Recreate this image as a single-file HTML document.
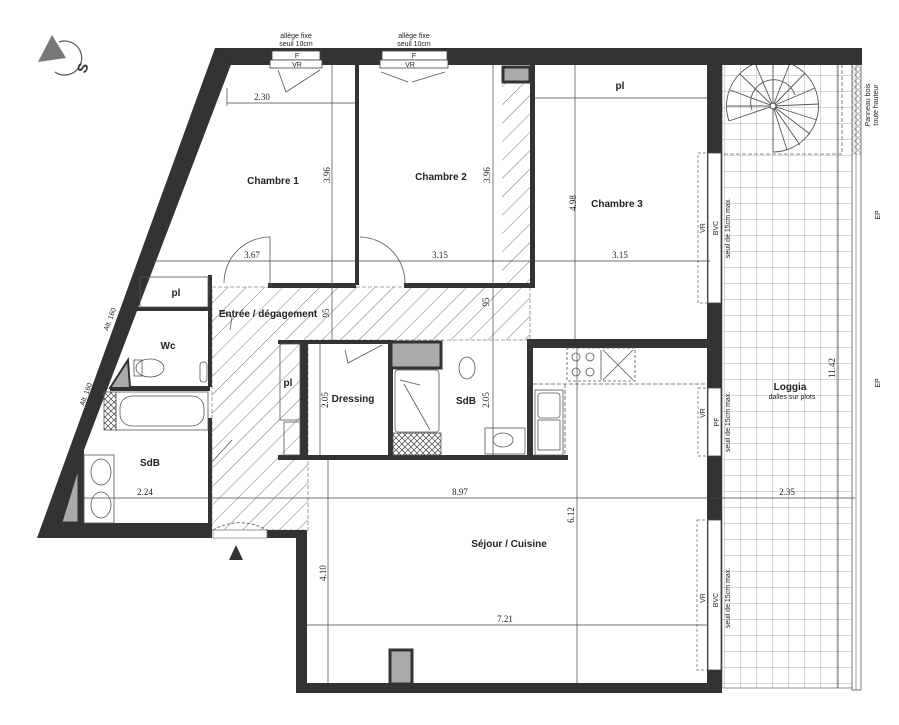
<!DOCTYPE html>
<html><head><meta charset="utf-8">
<style>
html,body{margin:0;padding:0;background:#fff;}
svg{display:block;}
text{font-family:"Liberation Sans",sans-serif;fill:#222;}
.b{font-weight:bold;font-size:10px;}
.d{font-family:"Liberation Serif",serif;font-size:9px;}
.s{font-size:7px;}
</style></head><body>
<svg width="899" height="725" viewBox="0 0 899 725" xmlns="http://www.w3.org/2000/svg">
<defs>
<pattern id="h" width="13" height="13" patternUnits="userSpaceOnUse" patternTransform="rotate(45)">
<line x1="0" y1="0" x2="0" y2="13" stroke="#555" stroke-width="0.8"/>
</pattern>
<pattern id="g" x="725" y="60" width="16" height="16" patternUnits="userSpaceOnUse">
<path d="M16 0V16M0 16H16" stroke="#999" stroke-width="0.8" fill="none"/>
</pattern>
<pattern id="x" width="6" height="6" patternUnits="userSpaceOnUse">
<path d="M0 0L6 6M6 0L0 6" stroke="#444" stroke-width="0.7"/>
</pattern>
</defs>

<!-- compass -->
<polygon points="52,35 66,58 38,62" fill="#777"/>
<path d="M59,42 A17,17 0 1 1 55,72" fill="none" stroke="#555" stroke-width="1.2"/>
<text x="80" y="78" font-size="14" font-weight="bold" transform="rotate(-70 80 72)" style="fill:#333">S</text>

<!-- hatched circulation -->
<polygon points="212,287 530,287 530,340 308,340 308,530 212,530" fill="url(#h)"/>
<rect x="502" y="82" width="28" height="203" fill="url(#h)"/>
<polygon points="212,287 530,287 530,340 308,340 308,530 212,530" fill="none" stroke="#888" stroke-width="0.8" stroke-dasharray="4 2"/>

<!-- loggia grid -->
<rect x="722" y="58" width="133" height="630" fill="url(#g)"/>
<rect x="722" y="58" width="133" height="630" fill="none" stroke="#777" stroke-width="0.8"/>
<line x1="838" y1="60" x2="838" y2="688" stroke="#444" stroke-width="0.8"/>
<rect x="852" y="60" width="9" height="630" fill="#fff" stroke="#555" stroke-width="0.8"/>
<line x1="856" y1="60" x2="856" y2="690" stroke="#555" stroke-width="0.6"/>
<rect x="852" y="60" width="9" height="95" fill="url(#x)" opacity="0.5"/>
<!-- stair -->
<rect x="722" y="58" width="120" height="96" fill="none" stroke="#666" stroke-dasharray="4 2" stroke-width="0.8"/>
<g stroke="#555" stroke-width="0.9" fill="none">
<path d="M729,121 A46,46 0 1 1 773,152"/>
<path d="M752,110 A22,22 0 0 1 795,95"/>
<line x1="773" y1="106" x2="729" y2="121"/><line x1="773" y1="106" x2="727" y2="106"/>
<line x1="773" y1="106" x2="730" y2="90"/><line x1="773" y1="106" x2="740" y2="74"/>
<line x1="773" y1="106" x2="755" y2="63"/><line x1="773" y1="106" x2="773" y2="60"/>
<line x1="773" y1="106" x2="790" y2="63"/><line x1="773" y1="106" x2="805" y2="73"/>
<line x1="773" y1="106" x2="815" y2="88"/><line x1="773" y1="106" x2="819" y2="104"/>
<line x1="773" y1="106" x2="817" y2="120"/><line x1="773" y1="106" x2="810" y2="134"/>
<line x1="773" y1="106" x2="800" y2="145"/><line x1="773" y1="106" x2="787" y2="150"/>
<line x1="773" y1="106" x2="773" y2="152"/>
</g>
<circle cx="773" cy="106" r="3" fill="#fff" stroke="#444"/>

<!-- walls -->
<g fill="#333">
<rect x="215" y="48" width="647" height="17"/>
<polygon points="37,538 215,48 232,62 84,450 84,523 212,523 212,538"/>
<rect x="267" y="530" width="38" height="8"/>
<rect x="296" y="530" width="11" height="163"/>
<rect x="296" y="683" width="426" height="10"/>
<rect x="707" y="48" width="15" height="645"/>
<rect x="355" y="65" width="4" height="220"/>
<rect x="530" y="65" width="5" height="222"/>
<rect x="268" y="283" width="88" height="5"/>
<rect x="404" y="283" width="131" height="5"/>
<rect x="528" y="339" width="180" height="9"/>
<rect x="527" y="339" width="6" height="120"/>
<rect x="278" y="340" width="112" height="4"/>
<rect x="300" y="340" width="8" height="118"/>
<rect x="388" y="340" width="5" height="118"/>
<rect x="278" y="455" width="290" height="5"/>
<rect x="208" y="275" width="4" height="112"/>
<rect x="208" y="418" width="4" height="112"/>
<rect x="135" y="307" width="75" height="4"/>
<rect x="110" y="386" width="100" height="5"/>
</g>
<!-- grey boxes -->
<rect x="503" y="67" width="27" height="15" fill="#aaa" stroke="#333" stroke-width="3"/>
<rect x="391" y="342" width="50" height="26" fill="#aaa" stroke="#333" stroke-width="3"/>
<rect x="390" y="650" width="22" height="34" fill="#aaa" stroke="#333" stroke-width="3"/>
<polygon points="110,388 128,360 130,388" fill="#aaa" stroke="#333" stroke-width="2"/>
<polygon points="62,522 78,470 78,522" fill="#aaa" stroke="#333" stroke-width="1"/>

<!-- top windows -->
<g fill="#fff" stroke="#444" stroke-width="0.8">
<rect x="272" y="51" width="48" height="9"/>
<rect x="270" y="60" width="52" height="8"/>
<rect x="382" y="51" width="65" height="9"/>
<rect x="380" y="60" width="68" height="8"/>
</g>
<g fill="none" stroke="#555" stroke-width="0.8">
<path d="M278,70 L286,92 L320,70"/><path d="M381,72 L408,82 M412,82 L445,72"/>
</g>
<text x="297" y="58" class="s" text-anchor="middle">F</text>
<text x="297" y="67" class="s" text-anchor="middle">VR</text>
<text x="414" y="58" class="s" text-anchor="middle">F</text>
<text x="410" y="67" class="s" text-anchor="middle">VR</text>
<text x="296" y="38" class="s" text-anchor="middle">allège fixe</text>
<text x="296" y="46" class="s" text-anchor="middle">seuil 10cm</text>
<text x="414" y="38" class="s" text-anchor="middle">allège fixe</text>
<text x="414" y="46" class="s" text-anchor="middle">seuil 10cm</text>

<!-- right windows -->
<g fill="#fff" stroke="#444" stroke-width="0.8">
<rect x="708" y="153" width="13" height="150"/>
<rect x="708" y="388" width="13" height="68"/>
<rect x="708" y="520" width="13" height="150"/>
</g>
<g fill="none" stroke="#666" stroke-width="0.7" stroke-dasharray="3 2">
<rect x="698" y="153" width="10" height="150"/><rect x="698" y="388" width="10" height="68"/><rect x="697" y="520" width="11" height="150"/>
</g>
<text transform="translate(718,228) rotate(-90)" class="s" text-anchor="middle">BVC</text>
<text transform="translate(730,228) rotate(-90)" class="s" text-anchor="middle">seuil de 15cm max.</text>
<text transform="translate(705,228) rotate(-90)" class="s" text-anchor="middle">VR</text>
<text transform="translate(719,422) rotate(-90)" class="s" text-anchor="middle">PF</text>
<text transform="translate(730,422) rotate(-90)" class="s" text-anchor="middle">seuil de 15cm max.</text>
<text transform="translate(705,413) rotate(-90)" class="s" text-anchor="middle">VR</text>
<text transform="translate(718,600) rotate(-90)" class="s" text-anchor="middle">BVC</text>
<text transform="translate(730,598) rotate(-90)" class="s" text-anchor="middle">seuil de 15cm max.</text>
<text transform="translate(705,598) rotate(-90)" class="s" text-anchor="middle">VR</text>
<text transform="translate(870,105) rotate(-90)" class="s" text-anchor="middle">Panneau bois</text>
<text transform="translate(878,105) rotate(-90)" class="s" text-anchor="middle">toute hauteur</text>
<text transform="translate(880,215) rotate(-90)" class="s" text-anchor="middle">EP</text>
<text transform="translate(880,383) rotate(-90)" class="s" text-anchor="middle">EP</text>

<!-- interior fixtures -->
<g fill="none" stroke="#555" stroke-width="0.8">
<path d="M270,287 V237 A46,46 0 0 0 224,283"/>
<path d="M360,237 A46,46 0 0 1 405,283"/>
<rect x="140" y="277" width="68" height="30"/>
<rect x="116" y="392" width="92" height="38"/><rect x="120" y="396" width="84" height="30" rx="12"/>
<rect x="104" y="392" width="12" height="38" fill="url(#x)"/>
<ellipse cx="150" cy="368" rx="14" ry="9"/><rect x="134" y="360" width="8" height="16"/>
<rect x="200" y="362" width="7" height="20" rx="3"/>
<rect x="84" y="455" width="30" height="68"/>
<ellipse cx="101" cy="472" rx="10" ry="13"/><ellipse cx="101" cy="505" rx="10" ry="13"/>
<rect x="280" y="344" width="20" height="76"/><rect x="284" y="422" width="16" height="33"/>
<path d="M345,350 L348,363 L382,345"/>
<rect x="395" y="370" width="44" height="62" rx="3"/>
<rect x="393" y="433" width="48" height="22" fill="url(#x)"/>
<path d="M400,380 L420,385 M404,384 L430,430"/>
<ellipse cx="467" cy="368" rx="8" ry="11"/>
<rect x="485" y="428" width="40" height="26"/><ellipse cx="503" cy="440" rx="10" ry="7"/>
<rect x="535" y="390" width="28" height="65"/><rect x="538" y="393" width="22" height="25" rx="3"/>
<rect x="538" y="420" width="22" height="30"/>
<rect x="567" y="348" width="68" height="33" stroke-dasharray="3 2"/>
<line x1="601" y1="350" x2="601" y2="380"/><path d="M603,350 L633,380 M633,350 L603,380"/>
<circle cx="576" cy="357" r="4"/><circle cx="590" cy="357" r="4"/><circle cx="576" cy="372" r="4"/><circle cx="590" cy="372" r="4"/>
<line x1="533" y1="384" x2="707" y2="384" stroke-dasharray="4 2"/>
<line x1="565" y1="384" x2="565" y2="455" stroke-dasharray="4 2"/>
<path d="M230,330 L232,317 L220,310"/>
<path d="M213,530 A54,54 0 0 1 267,530" stroke-dasharray="3 2"/>
<path d="M212,462 L232,440"/>
</g>
<rect x="213" y="530" width="54" height="8" fill="#fff" stroke="#666" stroke-width="0.6"/>
<polygon points="229,560 243,560 236,545" fill="#333"/>

<!-- dimension lines -->
<g stroke="#444" stroke-width="0.7" fill="none">
<line x1="227" y1="103" x2="355" y2="103"/><line x1="227" y1="88" x2="227" y2="106"/>
<line x1="155" y1="261" x2="710" y2="261"/>
<line x1="332" y1="65" x2="332" y2="340"/>
<line x1="493" y1="65" x2="493" y2="340"/>
<line x1="575" y1="65" x2="575" y2="340"/>
<line x1="535" y1="98" x2="707" y2="98"/>
<line x1="320" y1="344" x2="320" y2="455"/>
<line x1="493" y1="340" x2="493" y2="455"/>
<line x1="84" y1="498" x2="855" y2="498"/>
<line x1="577" y1="348" x2="577" y2="683"/>
<line x1="328" y1="460" x2="328" y2="683"/>
<line x1="307" y1="625" x2="707" y2="625"/>
</g>
<text x="262" y="100" class="d" text-anchor="middle">2.30</text>
<text x="252" y="258" class="d" text-anchor="middle">3.67</text>
<text x="440" y="258" class="d" text-anchor="middle">3.15</text>
<text x="620" y="258" class="d" text-anchor="middle">3.15</text>
<text x="145" y="495" class="d" text-anchor="middle">2.24</text>
<text x="460" y="495" class="d" text-anchor="middle">8.97</text>
<text x="787" y="495" class="d" text-anchor="middle">2.35</text>
<text x="505" y="622" class="d" text-anchor="middle">7.21</text>
<text transform="translate(330,175) rotate(-90)" class="d" text-anchor="middle">3.96</text>
<text transform="translate(490,175) rotate(-90)" class="d" text-anchor="middle">3.96</text>
<text transform="translate(576,203) rotate(-90)" class="d" text-anchor="middle">4.98</text>
<text transform="translate(329,313) rotate(-90)" class="d" text-anchor="middle">95</text>
<text transform="translate(489,302) rotate(-90)" class="d" text-anchor="middle">95</text>
<text transform="translate(328,400) rotate(-90)" class="d" text-anchor="middle">2.05</text>
<text transform="translate(489,400) rotate(-90)" class="d" text-anchor="middle">2.05</text>
<text transform="translate(574,515) rotate(-90)" class="d" text-anchor="middle">6.12</text>
<text transform="translate(326,573) rotate(-90)" class="d" text-anchor="middle">4.10</text>
<text transform="translate(835,368) rotate(-90)" class="d" text-anchor="middle">11.42</text>
<text transform="translate(112,320) rotate(-70)" class="s" text-anchor="middle">Alt. 160</text>
<text transform="translate(88,395) rotate(-70)" class="s" text-anchor="middle">Alt. 160</text>

<!-- room labels -->
<text x="273" y="184" class="b" text-anchor="middle">Chambre 1</text>
<text x="441" y="180" class="b" text-anchor="middle">Chambre 2</text>
<text x="617" y="207" class="b" text-anchor="middle">Chambre 3</text>
<text x="620" y="89" class="b" text-anchor="middle">pl</text>
<text x="268" y="317" class="b" text-anchor="middle">Entrée / dégagement</text>
<text x="176" y="296" class="b" text-anchor="middle">pl</text>
<text x="168" y="349" class="b" text-anchor="middle">Wc</text>
<text x="288" y="386" class="b" text-anchor="middle">pl</text>
<text x="353" y="402" class="b" text-anchor="middle">Dressing</text>
<text x="466" y="404" class="b" text-anchor="middle">SdB</text>
<text x="150" y="466" class="b" text-anchor="middle">SdB</text>
<text x="509" y="547" class="b" text-anchor="middle">Séjour / Cuisine</text>
<text x="790" y="390" class="b" text-anchor="middle">Loggia</text>
<text x="792" y="399" class="s" text-anchor="middle">dalles sur plots</text>
</svg>
</body></html>
